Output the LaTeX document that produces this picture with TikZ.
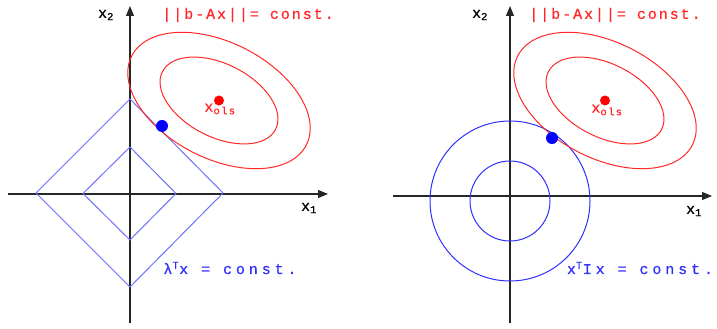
\documentclass[tikz,border=0pt]{standalone}
\usepackage{fontspec}
\usepackage{tikz}
\usetikzlibrary{arrows.meta}
\newfontfamily\codefont[LetterSpace=13,FakeBold=0.7]{Liberation Mono}
\newfontfamily\penfont[LetterSpace=26,FakeBold=0.7]{Liberation Mono}
\definecolor{lsred}{RGB}{255,40,40}
\definecolor{l1blue}{RGB}{112,112,255}
\definecolor{l2blue}{RGB}{48,48,255}
\tikzset{
  axis/.style={draw=black!85,line width=1.1pt,-{Triangle[length=10pt,width=8pt]}},
  lvl/.style={draw=lsred,line width=1pt},
  lasso/.style={draw=l1blue,line width=1pt},
  ridge/.style={draw=l2blue,line width=1pt},
  dot/.style={circle,inner sep=0pt,minimum size=#1},
  txt/.style={inner sep=0pt,font=\codefont\fontsize{15}{18}\selectfont},
  pen/.style={inner sep=0pt,text=l2blue,font=\penfont\fontsize{15}{18}\selectfont}
}
\begin{document}
\begin{tikzpicture}[x=1pt,y=1pt]
\useasboundingbox (0,0) rectangle (717,329);
% left: lasso
\coordinate (o1) at (130,135);
\coordinate (c1) at (219,228.5);
\draw[axis] (8,135) -- (328,135);
\draw[axis] (130,6) -- (130,323);
\draw[lasso] (36,136) -- (130,230) -- (223,136) -- (130,42) -- cycle;
\draw[lasso] (83,135.5) -- (130,182) -- (176,135.5) -- (130,89) -- cycle;
\draw[lvl,rotate around={-27:(c1)}] (c1) ellipse [x radius=98,y radius=58];
\draw[lvl,rotate around={-27:(c1)}] (c1) ellipse [x radius=63.5,y radius=36.5];
\node[dot=10pt,fill=red] (ols1) at (c1) {};
\node[dot=12pt,fill=blue] (sol1) at (162,203) {};
\node[txt,text=lsred] (xols1) at (220,220) {x\textsubscript{ols}};
\node[txt,text=lsred] (rss1) at (248,314) {||b-Ax||= const.};
\node[txt] (xb1) at (106,314) {x\textsubscript{2}};
\node[txt] (xa1) at (309,121) {x\textsubscript{1}};
\node[pen] (pen1) at (230,61) {λ\textsuperscript{T}x = const.};
% right: ridge
\coordinate (o2) at (510,128);
\coordinate (c2) at (605,228.5);
\draw[axis] (393,133) -- (712,133);
\draw[axis] (510,6) -- (510,323);
\draw[ridge] (o2) circle [radius=80];
\draw[ridge] (o2) circle [radius=40];
\draw[lvl,rotate around={-27:(c2)}] (c2) ellipse [x radius=98,y radius=58];
\draw[lvl,rotate around={-27:(c2)}] (c2) ellipse [x radius=63.5,y radius=36.5];
\node[dot=10pt,fill=red] (ols2) at (c2) {};
\node[dot=12pt,fill=blue] (sol2) at (552,191) {};
\node[txt,text=lsred] (xols2) at (607,219) {x\textsubscript{ols}};
\node[txt,text=lsred] (rss2) at (615,314) {||b-Ax||= const.};
\node[txt] (xb2) at (480,314) {x\textsubscript{2}};
\node[txt] (xa2) at (694,118) {x\textsubscript{1}};
\node[pen] (pen2) at (640,61) {x\textsuperscript{T}Ix = const.};
\end{tikzpicture}
\end{document}
